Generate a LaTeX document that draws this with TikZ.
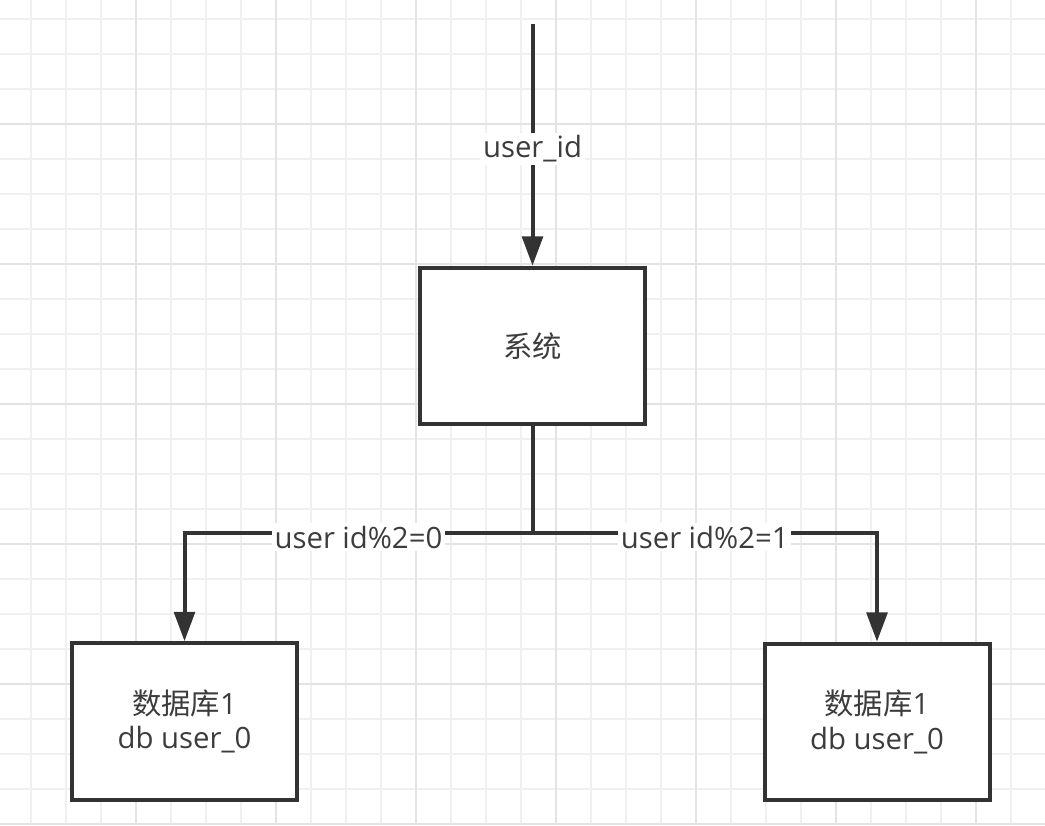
\documentclass[tikz,border=0pt]{standalone}
\usepackage{fontspec}
\setmainfont{Open Sans}
\newfontfamily\cjk{Noto Sans CJK SC}
\usetikzlibrary{arrows.meta,positioning}
\definecolor{inkgray}{HTML}{333333}
\definecolor{textgray}{HTML}{3C3C3C}
\definecolor{gridminor}{HTML}{F0F0F0}
\definecolor{gridmajor}{HTML}{E3E3E3}
\tikzset{box/.style={draw=inkgray,line width=3pt,fill=white,align=center,text=textgray,minimum width=168.75pt,minimum height=117.5pt},link/.style={draw=inkgray,line width=3pt},arrow/.style={link,-{Triangle[length=22pt,width=15.5pt]}},lbl/.style={fill=white,text=textgray,inner sep=2pt,yshift=-3pt},big/.style={font=\fontsize{22}{26}\selectfont}}

\begin{document}
\begin{tikzpicture}[x=0.75pt,y=-0.75pt,big]
\useasboundingbox (0,0) rectangle (1045,825);
% background grid
\foreach \gx in {31,66,...,1045} \draw[gridminor,line width=1.5pt] (\gx,0)--(\gx,825);
\foreach \gy in {19,54,...,825} \draw[gridminor,line width=1.5pt] (0,\gy)--(1045,\gy);
\foreach \gx in {136,276,...,1045} \draw[gridmajor,line width=1.5pt] (\gx,0)--(\gx,825);
\foreach \gy in {124,264,...,825} \draw[gridmajor,line width=1.5pt] (0,\gy)--(1045,\gy);
% nodes
\coordinate (src) at (532.5,24);
\node[box] (sys) at (532.5,346) {{\cjk 系统}};
\coordinate (split) at (532.5,533);
\node[box] (db0) at (184.5,721.5) {{\cjk 数据库}1\\db user\_0};
\node[box] (db1) at (877,722) {{\cjk 数据库}1\\db user\_0};
% connectors
\draw[arrow] (src)--node[lbl]{user\_id}(sys);
\draw[link] (sys)--(split);
\draw[arrow] (split)-|node[lbl,pos=0.25]{user\hspace{0.25em}id\%2=0}(db0);
\draw[arrow] (split)-|node[lbl,pos=0.25]{user\hspace{0.25em}id\%2=1}(db1);
\end{tikzpicture}
\end{document}
